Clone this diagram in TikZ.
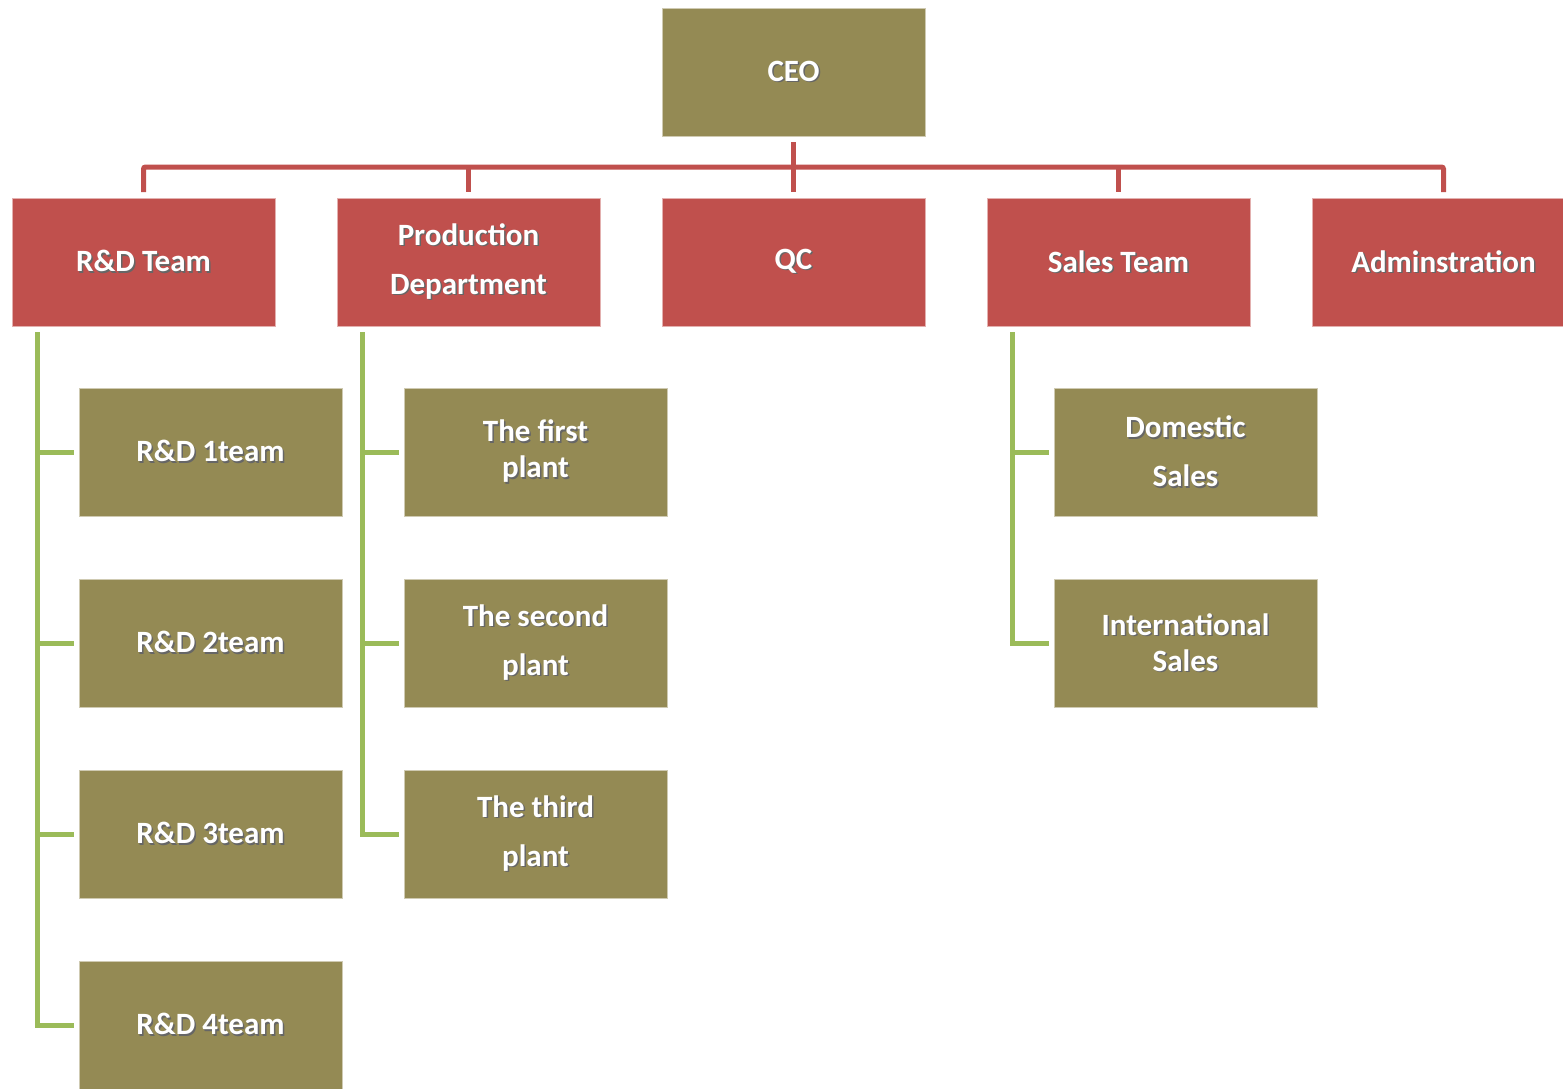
\documentclass[tikz,border=0pt]{standalone}
\usepackage{fontspec}
\setmainfont{Carlito}
\usetikzlibrary{positioning,calc}
\definecolor{olivebox}{HTML}{948A54}
\definecolor{redbox}{HTML}{C0504D}
\definecolor{greenline}{HTML}{9BBB59}
\newcommand{\sh}[1]{\rlap{\kern1.5pt\raisebox{-1.5pt}{\color{black!60}#1}}#1}

\begin{document}
\begin{tikzpicture}[x=1pt,y=1pt,
        box/.style = {
            draw=white!55!olivebox,
            line width=0.8pt,
            fill=olivebox,
            text=white,
            align=center,
            minimum width=263pt,
            minimum height=128pt,
            inner sep=0pt, outer sep=0pt,
            font=\fontsize{31}{36}\selectfont\bfseries
        },
        dept/.style = {box, fill=redbox, draw=white!55!redbox},
        redline/.style = {draw=redbox, line width=5pt, rounded corners=2pt},
        grnline/.style = {draw=greenline, line width=5pt},
        node distance=62pt]

        \clip (0,0) rectangle (1563,-1088);

        \node[box, anchor=north west] (ceo) at (662,-8) {\sh{CEO}};
        \node[dept, below=of ceo] (qc) {\sh{QC}};
        \node[dept, left=of qc] (prod) {\sh{Production}\\[13pt]\sh{Department}};
        \node[dept, left=of prod] (rd) {\sh{R\&D Team}};
        \node[dept, right=of qc] (sales) {\sh{Sales Team}};
        \node[dept, right=of sales] (adm) {\sh{Adminstration}};

        \node[box, below=of rd, xshift=67pt] (rd1) {\sh{R\&D 1team}};
        \node[box, below=63pt of rd1] (rd2) {\sh{R\&D 2team}};
        \node[box, below=63pt of rd2] (rd3) {\sh{R\&D 3team}};
        \node[box, below=63pt of rd3] (rd4) {\sh{R\&D 4team}};

        \node[box, below=of prod, xshift=67pt] (pl1) {\sh{The first}\\\sh{plant}};
        \node[box, below=63pt of pl1] (pl2) {\sh{The second}\\[13pt]\sh{plant}};
        \node[box, below=63pt of pl2] (pl3) {\sh{The third}\\[13pt]\sh{plant}};

        \node[box, below=of sales, xshift=67pt] (dom) {\sh{Domestic}\\[13pt]\sh{Sales}};
        \node[box, below=63pt of dom] (intl) {\sh{International}\\\sh{Sales}};

        % CEO to departments
        \coordinate (bar) at ($(ceo.south)!0.5!(qc.north)$);
        \draw[redline] ([yshift=-6pt]ceo.south) -- ([yshift=6pt]qc.north);
        \draw[redline] ([yshift=6pt]rd.north) |- (bar) -| ([yshift=6pt]adm.north);
        \foreach \d in {prod,sales}
            \draw[redline] (bar -| \d.north) -- ([yshift=6pt]\d.north);

        % departments to teams
        \coordinate (rdx) at ([xshift=25pt,yshift=-6pt]rd.south west);
        \draw[grnline] (rdx) |- ([xshift=-5pt]rd4.west);
        \foreach \n in {rd1,rd2,rd3}
            \draw[grnline] (rdx |- \n.west) -- ([xshift=-5pt]\n.west);

        \coordinate (plx) at ([xshift=25pt,yshift=-6pt]prod.south west);
        \draw[grnline] (plx) |- ([xshift=-5pt]pl3.west);
        \foreach \n in {pl1,pl2}
            \draw[grnline] (plx |- \n.west) -- ([xshift=-5pt]\n.west);

        \coordinate (slx) at ([xshift=25pt,yshift=-6pt]sales.south west);
        \draw[grnline] (slx) |- ([xshift=-5pt]intl.west);
        \draw[grnline] (slx |- dom.west) -- ([xshift=-5pt]dom.west);
    \end{tikzpicture}
\end{document}
